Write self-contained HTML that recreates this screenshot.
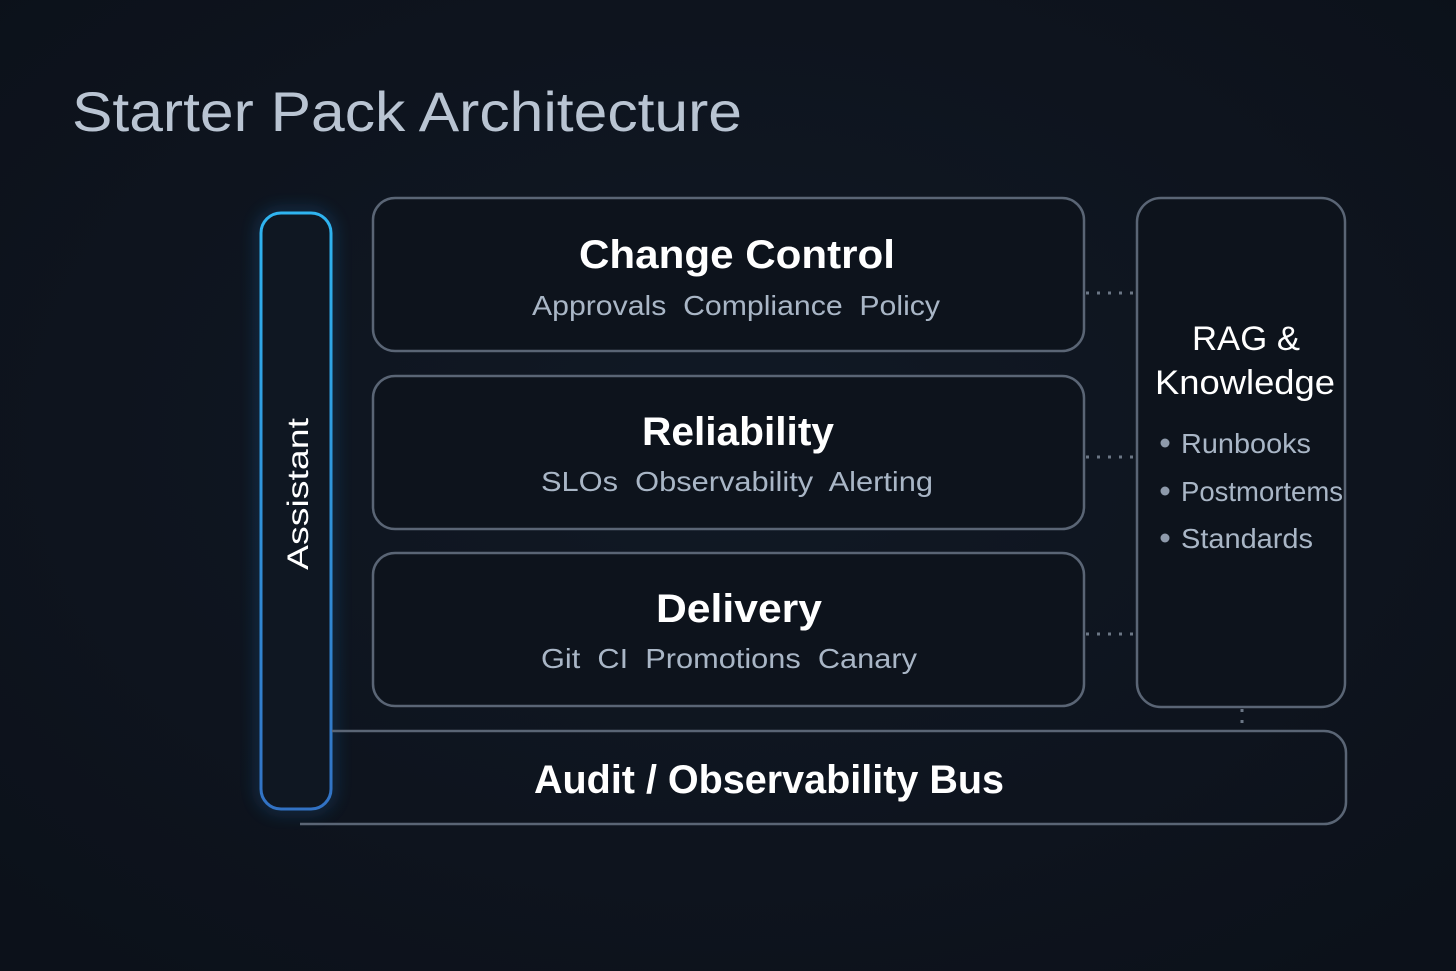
<!DOCTYPE html>
<html><head><meta charset="utf-8"><style>
html,body{margin:0;padding:0;background:#0d131c;}
svg{display:block}
text{font-family:"Liberation Sans","DejaVu Sans",sans-serif;}
</style></head><body>
<svg width="1456" height="971" viewBox="0 0 1456 971" xmlns="http://www.w3.org/2000/svg">
<defs>
<radialGradient id="bg" cx="0.5" cy="0.45" r="0.7">
<stop offset="0" stop-color="#111925"/><stop offset="1" stop-color="#0c111a"/>
</radialGradient>
<linearGradient id="asg" x1="0" y1="0" x2="0" y2="1">
<stop offset="0" stop-color="#2fb4f0"/><stop offset="1" stop-color="#3272c4"/>
</linearGradient>
<filter id="glow" x="-1" y="-0.2" width="3" height="1.4"><feGaussianBlur stdDeviation="8"/></filter>
</defs>
<rect width="1456" height="971" fill="url(#bg)"/>
<text x="72" y="131" font-size="56" fill="#b9c4d2" textLength="670" lengthAdjust="spacingAndGlyphs">Starter Pack Architecture</text>

<!-- assistant -->
<rect x="261" y="213" width="70" height="596" rx="20" fill="none" stroke="#1e6fb8" stroke-width="6" opacity="0.5" filter="url(#glow)"/>
<rect x="261" y="213" width="70" height="596" rx="20" fill="#0f1722" stroke="url(#asg)" stroke-width="3"/>
<text transform="translate(308,494) rotate(-90)" text-anchor="middle" font-size="30" fill="#ffffff" textLength="152" lengthAdjust="spacingAndGlyphs">Assistant</text>

<!-- layer boxes -->
<g fill="#0d131c" stroke="#5a6575" stroke-width="2.5">
<rect x="373" y="198" width="711" height="153" rx="22"/>
<rect x="373" y="376" width="711" height="153" rx="22"/>
<rect x="373" y="553" width="711" height="153" rx="22"/>
<rect x="1137" y="198" width="208" height="509" rx="24"/>
</g>
<g font-size="40" font-weight="bold" fill="#ffffff" text-anchor="middle">
<text x="737" y="268" textLength="316" lengthAdjust="spacingAndGlyphs">Change Control</text>
<text x="738" y="445" textLength="192" lengthAdjust="spacingAndGlyphs">Reliability</text>
<text x="739" y="622" textLength="166" lengthAdjust="spacingAndGlyphs">Delivery</text>
</g>
<g font-size="28" fill="#a9b6c6" text-anchor="middle">
<text x="736" y="315" textLength="408" lengthAdjust="spacingAndGlyphs" xml:space="preserve">Approvals  Compliance  Policy</text>
<text x="737" y="491" textLength="392" lengthAdjust="spacingAndGlyphs" xml:space="preserve">SLOs  Observability  Alerting</text>
<text x="729" y="668" textLength="376" lengthAdjust="spacingAndGlyphs" xml:space="preserve">Git  CI  Promotions  Canary</text>
</g>

<!-- dotted connectors -->
<g stroke="#6b7685" stroke-width="3" stroke-dasharray="3 8">
<line x1="1086" y1="293" x2="1137" y2="293"/>
<line x1="1086" y1="457" x2="1137" y2="457"/>
<line x1="1086" y1="634" x2="1137" y2="634"/>
<line x1="1242" y1="709" x2="1242" y2="731"/>
</g>

<!-- RAG -->
<g fill="#ffffff" font-size="34" text-anchor="middle">
<text x="1246" y="350" textLength="108" lengthAdjust="spacingAndGlyphs">RAG &amp;</text>
<text x="1245" y="394" textLength="180" lengthAdjust="spacingAndGlyphs">Knowledge</text>
</g>
<g fill="#8e9aab"><circle cx="1165" cy="443" r="4.5"/><circle cx="1165" cy="491" r="4.5"/><circle cx="1165" cy="538" r="4.5"/></g>
<g fill="#a9b6c6" font-size="28">
<text x="1181" y="453" textLength="130" lengthAdjust="spacingAndGlyphs">Runbooks</text>
<text x="1181" y="501" textLength="162" lengthAdjust="spacingAndGlyphs">Postmortems</text>
<text x="1181" y="548" textLength="132" lengthAdjust="spacingAndGlyphs">Standards</text>
</g>

<!-- bus -->
<path d="M332 731 H1324 A22 22 0 0 1 1346 753 V802 A22 22 0 0 1 1324 824 H300" fill="none" stroke="#5a6575" stroke-width="2.5"/>
<text x="769" y="793" text-anchor="middle" font-size="40" font-weight="bold" fill="#ffffff" textLength="470" lengthAdjust="spacingAndGlyphs">Audit / Observability Bus</text>
</svg>
</body></html>
